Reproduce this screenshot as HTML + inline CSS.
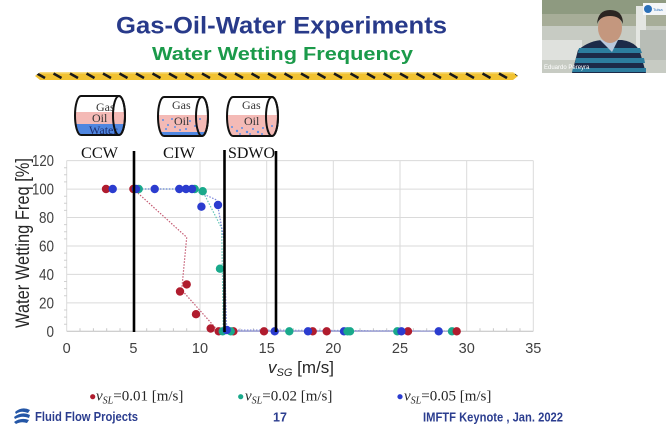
<!DOCTYPE html>
<html><head><meta charset="utf-8"><style>
html,body{margin:0;padding:0;background:#fff;}
svg{display:block;}
</style></head><body>
<svg width="666" height="425" viewBox="0 0 666 425" xmlns="http://www.w3.org/2000/svg">
<defs>
<pattern id="haz" x="35" y="72" width="16.5" height="8" patternUnits="userSpaceOnUse">
<rect width="16.5" height="8" fill="#f1c232"/>
<rect y="0" width="16.5" height="1.5" fill="#f7dc80"/>
<line x1="2" y1="1.5" x2="10" y2="6" stroke="#1a1a1a" stroke-width="2.6"/>
</pattern>
<clipPath id="c1"><path d="M81,96 L119,96 A6,19.5 0 0 1 119,135 L81,135 A6,19.5 0 0 1 81,96 Z"/></clipPath>
<clipPath id="c2"><path d="M164,97 L202,97 A6,19.5 0 0 1 202,136 L164,136 A6,19.5 0 0 1 164,97 Z"/></clipPath>
<clipPath id="c3"><path d="M233,97 L272,97 A6,19.5 0 0 1 272,136 L233,136 A6,19.5 0 0 1 233,97 Z"/></clipPath>
</defs>
<rect width="666" height="425" fill="#fff"/>

<!-- Titles -->
<text x="116" y="33.3" font-family="Liberation Sans, sans-serif" font-weight="bold" font-size="24" fill="#283a8a" textLength="331" lengthAdjust="spacingAndGlyphs">Gas-Oil-Water Experiments</text>
<text x="152" y="60" font-family="Liberation Sans, sans-serif" font-weight="bold" font-size="18.5" fill="#1b9a4a" textLength="261" lengthAdjust="spacingAndGlyphs">Water Wetting Frequency</text>

<!-- hazard stripe -->
<path d="M35,76 L40,72 L513,72 L518,76 L513,80 L40,80 Z" fill="url(#haz)"/>

<!-- webcam -->
<g>
<rect x="542" y="0" width="124" height="73" fill="#c7cbc3"/>
<rect x="542" y="0" width="124" height="22" fill="#8e9a80"/>
<rect x="542" y="14" width="124" height="12" fill="#a7ad98"/>
<rect x="636" y="6" width="10" height="45" fill="#e4e6e2"/>
<rect x="542" y="40" width="40" height="20" fill="#dfe1dd"/>
<rect x="640" y="30" width="26" height="30" fill="#b8bdb6"/>
<path d="M572,73 L578,50 Q590,40 604,40 L622,40 Q636,42 640,52 L646,73 Z" fill="#1c2a48"/>
<path d="M576,58 L644,58 L645,63 L575,63 Z" fill="#2c7d9e"/>
<path d="M579,48 L640,48 L642,53 L578,53 Z" fill="#2c7d9e"/>
<path d="M573,68 L646,68 L646,72 L572,72 Z" fill="#2c7d9e"/>
<path d="M600,40 L618,40 L612,52 Z" fill="#b9c7dc"/>
<ellipse cx="610" cy="28" rx="12" ry="15" fill="#c4977e"/>
<path d="M597,24 Q598,10 610,10 Q623,10 623,24 Q620,16 610,16 Q600,16 597,24 Z" fill="#2b2522"/>
<rect x="643" y="3" width="23" height="12" fill="#f4f6f8"/>
<circle cx="648" cy="9" r="4" fill="#2a6fb8"/>
<text x="653" y="11" font-family="Liberation Sans, sans-serif" font-size="4" fill="#2a6fb8">Tulsa</text>
<text x="544" y="69" font-family="Liberation Sans, sans-serif" font-size="6" fill="#fff">Eduardo Pereyra</text>
</g>

<!-- grid -->
<g stroke="#dadada" stroke-width="1">
<line x1="66.7" y1="160.6" x2="533.3" y2="160.6"/>
<line x1="66.7" y1="189.1" x2="533.3" y2="189.1"/>
<line x1="66.7" y1="217.5" x2="533.3" y2="217.5"/>
<line x1="66.7" y1="246" x2="533.3" y2="246"/>
<line x1="66.7" y1="274.4" x2="533.3" y2="274.4"/>
<line x1="66.7" y1="302.9" x2="533.3" y2="302.9"/>
<line x1="66.7" y1="160.6" x2="66.7" y2="331.3"/>
<line x1="133.4" y1="160.6" x2="133.4" y2="331.3"/>
<line x1="200" y1="160.6" x2="200" y2="331.3"/>
<line x1="266.7" y1="160.6" x2="266.7" y2="331.3"/>
<line x1="333.3" y1="160.6" x2="333.3" y2="331.3"/>
<line x1="400" y1="160.6" x2="400" y2="331.3"/>
<line x1="466.7" y1="160.6" x2="466.7" y2="331.3"/>
<line x1="533.3" y1="160.6" x2="533.3" y2="331.3"/>
</g>
<line x1="66.7" y1="331.3" x2="533.3" y2="331.3" stroke="#bfbfbf" stroke-width="1"/>
<path d="M80,331.3v-3M93.4,331.3v-3M106.7,331.3v-3M120,331.3v-3M146.7,331.3v-3M160,331.3v-3M173.4,331.3v-3M186.7,331.3v-3M213.4,331.3v-3M226.7,331.3v-3M240,331.3v-3M253.4,331.3v-3M280,331.3v-3M293.4,331.3v-3M306.7,331.3v-3M320,331.3v-3M346.7,331.3v-3M360,331.3v-3M373.4,331.3v-3M386.7,331.3v-3M413.4,331.3v-3M426.7,331.3v-3M440,331.3v-3M453.4,331.3v-3M480,331.3v-3M493.4,331.3v-3M506.7,331.3v-3M520,331.3v-3" stroke="#c8c8c8" stroke-width="1"/>
<path d="M64,167.7h3M64,174.8h3M64,181.9h3M64,196.2h3M64,203.3h3M64,210.4h3M64,224.6h3M64,231.7h3M64,238.9h3M64,253.1h3M64,260.2h3M64,267.3h3M64,281.5h3M64,288.6h3M64,295.8h3M64,310h3M64,317.1h3M64,324.2h3" stroke="#d0d0d0" stroke-width="1"/>

<!-- tick labels -->
<g font-family="Liberation Sans, sans-serif" font-size="15.5" fill="#404040" text-anchor="end">
<text x="54" y="166.2" textLength="22" lengthAdjust="spacingAndGlyphs">120</text>
<text x="54" y="194.6" textLength="22" lengthAdjust="spacingAndGlyphs">100</text>
<text x="54" y="223" textLength="15" lengthAdjust="spacingAndGlyphs">80</text>
<text x="54" y="251.5" textLength="15" lengthAdjust="spacingAndGlyphs">60</text>
<text x="54" y="279.9" textLength="15" lengthAdjust="spacingAndGlyphs">40</text>
<text x="54" y="308.4" textLength="15" lengthAdjust="spacingAndGlyphs">20</text>
<text x="54" y="336.8" textLength="7.5" lengthAdjust="spacingAndGlyphs">0</text>
</g>
<g font-family="Liberation Sans, sans-serif" font-size="14.5" fill="#404040" text-anchor="middle">
<text x="66.7" y="353">0</text>
<text x="133.4" y="353">5</text>
<text x="200" y="353">10</text>
<text x="266.7" y="353">15</text>
<text x="333.3" y="353">20</text>
<text x="400" y="353">25</text>
<text x="466.7" y="353">30</text>
<text x="533.3" y="353">35</text>
</g>

<!-- axis titles -->
<text transform="translate(29,243) rotate(-90)" text-anchor="middle" font-family="Liberation Sans, sans-serif" font-size="19" fill="#262626" textLength="170" lengthAdjust="spacingAndGlyphs">Water Wetting Freq [%]</text>
<text x="268" y="373" font-family="Liberation Sans, sans-serif" font-size="17" fill="#262626"><tspan font-style="italic">v</tspan><tspan font-style="italic" font-size="11" dy="3">SG</tspan><tspan dy="-3"> [m/s]</tspan></text>

<!-- trend lines -->
<path d="M133.4,189 L186.7,237.3 L181.7,290 L218.3,331 L456.7,331" fill="none" stroke="#c45a72" stroke-width="1.2" stroke-dasharray="1.5 1.5"/>
<path d="M138.7,189 L194.7,189 L202.7,191.2 L221.7,228.3 L223.3,331 L452,331" fill="none" stroke="#5fc4b6" stroke-width="1.2" stroke-dasharray="1.5 1.5"/>
<path d="M136,189 L192,189 L216.7,200 L224,240 L226.7,330 L438.7,331" fill="none" stroke="#7c86da" stroke-width="1.2" stroke-dasharray="1.5 1.5"/>
<line x1="226" y1="331.3" x2="456" y2="331.3" stroke="#a9acd8" stroke-width="1.5"/>

<!-- markers -->
<g fill="#b01c2e">
<circle cx="106" cy="189" r="4.2"/><circle cx="133.4" cy="189" r="4.2"/>
<circle cx="180" cy="291.5" r="4.2"/><circle cx="186.7" cy="284.4" r="4.2"/>
<circle cx="196" cy="314.2" r="4.2"/><circle cx="210.7" cy="328.5" r="4.2"/>
<circle cx="218.7" cy="331.3" r="4.2"/><circle cx="233.4" cy="331.3" r="4.2"/>
<circle cx="264" cy="331.3" r="4.2"/><circle cx="312.7" cy="331.3" r="4.2"/>
<circle cx="326.7" cy="331.3" r="4.2"/><circle cx="408" cy="331.3" r="4.2"/>
</g>
<g fill="#19a98b">
<circle cx="138.7" cy="189" r="4.2"/><circle cx="194.7" cy="189" r="4.2"/>
<circle cx="202.7" cy="191.2" r="4.2"/><circle cx="220" cy="268.7" r="4.2"/>
<circle cx="222.7" cy="331.3" r="4.2"/><circle cx="230.7" cy="331.3" r="4.2"/>
<circle cx="289.3" cy="331.3" r="4.2"/><circle cx="350" cy="331.3" r="4.2"/>
<circle cx="397.3" cy="331.3" r="4.2"/><circle cx="452" cy="331.3" r="4.2"/>
</g>
<circle cx="456.7" cy="331.3" r="4.2" fill="#b01c2e"/>
<g fill="#2b3ccf">
<circle cx="112.7" cy="189" r="4.2"/><circle cx="136" cy="189" r="4.2"/>
<circle cx="154.7" cy="189" r="4.2"/><circle cx="179.3" cy="189" r="4.2"/>
<circle cx="186" cy="189" r="4.2"/><circle cx="192" cy="189" r="4.2"/>
<circle cx="201.4" cy="206.7" r="4.2"/><circle cx="218" cy="205" r="4.2"/>
<circle cx="226.7" cy="330" r="4.2"/><circle cx="274.7" cy="331.3" r="4.2"/>
<circle cx="308" cy="331.3" r="4.2"/><circle cx="344" cy="331.3" r="4.2"/>
<circle cx="401.4" cy="331.3" r="4.2"/><circle cx="438.7" cy="331.3" r="4.2"/>
</g>
<circle cx="347.5" cy="331.3" r="4.2" fill="#19a98b"/>

<!-- regime lines -->
<g stroke="#000" stroke-width="2.6">
<line x1="134" y1="151" x2="134" y2="332"/>
<line x1="224.5" y1="150" x2="224.5" y2="332"/>
<line x1="276" y1="151" x2="276" y2="332"/>
</g>

<!-- tanks -->
<g clip-path="url(#c1)">
<rect x="70" y="96" width="60" height="16" fill="#fff"/>
<rect x="70" y="112" width="60" height="12" fill="#f4bab6"/>
<rect x="70" y="124" width="60" height="12" fill="#4f86e0"/>
</g>
<g font-family="Liberation Serif, serif" font-size="12" fill="#333">
<text x="96" y="111">Gas</text>
<text x="92" y="122">Oil</text>
<text x="89" y="134" fill="#1d2f70">Water</text>
</g>
<path d="M81,96 L119,96 A6,19.5 0 0 1 119,135 L81,135 A6,19.5 0 0 1 81,96 Z" fill="none" stroke="#111" stroke-width="2"/>
<ellipse cx="119" cy="115.5" rx="6" ry="19.5" fill="none" stroke="#111" stroke-width="2"/>

<g clip-path="url(#c2)">
<rect x="155" y="97" width="60" height="18" fill="#fff"/>
<rect x="155" y="115" width="60" height="18" fill="#f4bab6"/>
<rect x="155" y="132" width="60" height="5" fill="#4f86e0"/>
<g fill="#5a8ee6">
<circle cx="163" cy="120" r="1"/><circle cx="168" cy="125" r="1"/><circle cx="172" cy="119" r="1"/><circle cx="166" cy="129" r="1"/><circle cx="175" cy="127" r="1"/><circle cx="190" cy="121" r="1"/><circle cx="195" cy="126" r="1"/><circle cx="200" cy="119" r="1"/><circle cx="186" cy="129" r="1"/><circle cx="198" cy="130" r="1"/><circle cx="180" cy="130" r="1"/>
</g>
</g>
<g font-family="Liberation Serif, serif" font-size="12" fill="#333">
<text x="172" y="109">Gas</text>
<text x="174" y="125">Oil</text>
</g>
<path d="M164,97 L202,97 A6,19.5 0 0 1 202,136 L164,136 A6,19.5 0 0 1 164,97 Z" fill="none" stroke="#111" stroke-width="2"/>
<ellipse cx="202" cy="116.5" rx="6" ry="19.5" fill="none" stroke="#111" stroke-width="2"/>

<g clip-path="url(#c3)">
<rect x="224" y="97" width="60" height="18" fill="#fff"/>
<rect x="224" y="115" width="60" height="22" fill="#f4bab6"/>
<g fill="#5a8ee6">
<circle cx="232" cy="127" r="1"/><circle cx="237" cy="131" r="1.2"/><circle cx="242" cy="128" r="1"/><circle cx="247" cy="132" r="1.2"/><circle cx="253" cy="129" r="1"/><circle cx="258" cy="132" r="1.2"/><circle cx="263" cy="128" r="1"/><circle cx="268" cy="131" r="1.2"/><circle cx="272" cy="126" r="1"/><circle cx="250" cy="134" r="1"/><circle cx="240" cy="134" r="1"/><circle cx="262" cy="134" r="1"/>
</g>
</g>
<g font-family="Liberation Serif, serif" font-size="12" fill="#333">
<text x="242" y="109">Gas</text>
<text x="244" y="125">Oil</text>
</g>
<path d="M233,97 L272,97 A6,19.5 0 0 1 272,136 L233,136 A6,19.5 0 0 1 233,97 Z" fill="none" stroke="#111" stroke-width="2"/>
<ellipse cx="272" cy="116.5" rx="6" ry="19.5" fill="none" stroke="#111" stroke-width="2"/>

<g font-family="Liberation Serif, serif" font-size="16" fill="#111">
<text x="81" y="158" textLength="37" lengthAdjust="spacingAndGlyphs">CCW</text>
<text x="163" y="158" textLength="32" lengthAdjust="spacingAndGlyphs">CIW</text>
<text x="228" y="158" textLength="47" lengthAdjust="spacingAndGlyphs">SDWO</text>
</g>

<!-- legend -->
<g font-family="Liberation Serif, serif" font-size="15" fill="#262626">
<circle cx="92.7" cy="396.7" r="2.6" fill="#b01c2e"/>
<text x="96" y="400.5"><tspan font-style="italic">v</tspan><tspan font-style="italic" font-size="10" dy="3">SL</tspan><tspan dy="-3">=0.01 [m/s]</tspan></text>
<circle cx="240.7" cy="396.7" r="2.6" fill="#19a98b"/>
<text x="245" y="400.5"><tspan font-style="italic">v</tspan><tspan font-style="italic" font-size="10" dy="3">SL</tspan><tspan dy="-3">=0.02 [m/s]</tspan></text>
<circle cx="400" cy="396.7" r="2.6" fill="#2b3ccf"/>
<text x="404" y="400.5"><tspan font-style="italic">v</tspan><tspan font-style="italic" font-size="10" dy="3">SL</tspan><tspan dy="-3">=0.05 [m/s]</tspan></text>
</g>

<!-- footer -->
<g>
<path d="M15,412 Q22,406 30,410 L28,413 Q21,410 16,414 Z" fill="#2456a6"/>
<path d="M14,417 Q22,411 30,415 L29,418 Q22,415 15,419 Z" fill="#2456a6"/>
<path d="M14,422 Q21,417 29,420 L27,423 Q21,421 16,424 Z" fill="#2456a6"/>
</g>
<g font-family="Liberation Sans, sans-serif" font-weight="bold" font-size="12.5" fill="#2b3d8f">
<text x="35" y="421" textLength="103" lengthAdjust="spacingAndGlyphs">Fluid Flow Projects</text>
<text x="273" y="421.5">17</text>
<text x="423" y="421.5" textLength="140" lengthAdjust="spacingAndGlyphs">IMFTF Keynote , Jan. 2022</text>
</g>
</svg>
</body></html>
